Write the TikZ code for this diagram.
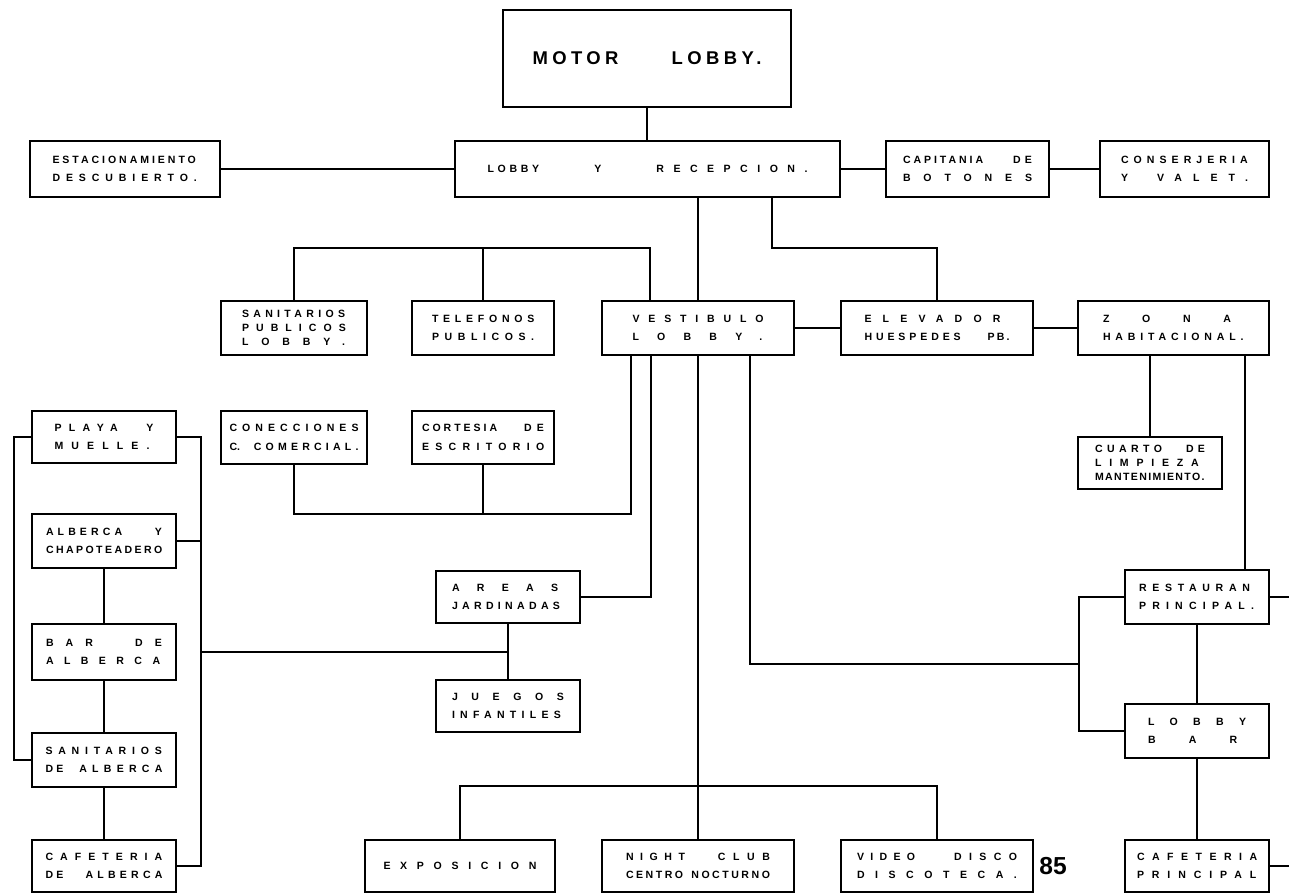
\documentclass[tikz,border=0pt]{standalone}
\usepackage{fontspec}
\newfontfamily\labelfont{Liberation Sans}
\usepackage{tikz}
\usetikzlibrary{calc}
\newcommand\ls[2]{{\addfontfeatures{LetterSpace=#1}#2}}
\tikzset{
  room/.style={draw,line width=1.1pt,inner sep=0pt,align=left,minimum height=1.06cm,
    font=\labelfont\bfseries\fontsize{6}{10.5}\selectfont},
  room3/.style={room,font=\labelfont\bfseries\fontsize{6}{8}\selectfont},
  wire/.style={line width=1.1pt}
}

\begin{document}
\begin{tikzpicture}[x=0.02cm,y=-0.02cm]
  \useasboundingbox (0,0) rectangle (1289,893);
  \node[room,minimum width=5.76cm,minimum height=1.94cm,text width=4.58cm,
    font=\labelfont\bfseries\fontsize{10.5}{12}\selectfont] (motor) at (647,58.5) {\ls{24}{MOTOR}\hfill\ls{24}{LOBBY.}};
  \node[room,minimum width=3.8cm,minimum height=1.12cm,text width=2.9cm] (estac) at (125,169) {\ls{28}{ESTACIONAMIENTO}\\\ls{56}{DESCUBIERTO.}};
  \node[room,minimum width=7.7cm,minimum height=1.12cm,text width=6.4cm] (lobby) at (647.5,169) {\ls{35}{LOBBY}\hfill Y\hfill\ls{90}{RECEPCION.}};
  \node[room,minimum width=3.26cm,minimum height=1.12cm,text width=2.58cm] (capit) at (967.5,169) {\ls{28}{CAPITANIA}\hfill\ls{40}{DE}\\\ls{122}{BOTONES}};
  \node[room,minimum width=3.38cm,minimum height=1.12cm,text width=2.54cm] (conserj) at (1184.5,169) {\ls{48}{CONSERJERIA}\\Y\hfill\ls{105}{VALET.}};

  \node[room3,minimum width=2.92cm,minimum height=1.08cm,text width=2.08cm] (sanpub) at (294,328) {\ls{41}{SANITARIOS}\\\ls{67}{PUBLICOS}\\\ls{122}{LOBBY.}};
  \node[room,minimum width=2.84cm,minimum height=1.08cm,text width=2.04cm] (tel) at (483,328) {\ls{45}{TELEFONOS}\\\ls{53}{PUBLICOS.}};
  \node[room,minimum width=3.84cm,minimum height=1.08cm,text width=2.62cm] (vest) at (698,328) {\ls{84}{VESTIBULO}\\\ls{173}{LOBBY.}};
  \node[room,minimum width=3.84cm,minimum height=1.08cm,text width=2.9cm] (elev) at (937,328) {\ls{106}{ELEVADOR}\\\ls{37}{HUESPEDES}\hfill\ls{20}{PB.}};
  \node[room,minimum width=3.82cm,minimum height=1.08cm,text width=2.82cm] (zona) at (1173.5,328) {\ls{310}{ZONA}\\\ls{46}{HABITACIONAL.}};
  \node[room3,minimum width=2.88cm,minimum height=1.04cm,text width=2.2cm] (cuarto) at (1150,463) {\ls{42}{CUARTO}\hfill\ls{40}{DE}\\\ls{74}{LIMPIEZA}\\\ls{13}{MANTENIMIENTO.}};

  \node[room,minimum width=2.88cm,minimum height=1.04cm,text width=1.98cm] (playa) at (104,437) {\ls{70}{PLAYA}\hfill Y\\\ls{77}{MUELLE.}};
  \node[room,minimum width=2.92cm,text width=2.58cm] (conec) at (294,437.5) {\ls{48}{CONECCIONES}\\C.\hfill\ls{40}{COMERCIAL.}};
  \node[room,minimum width=2.84cm,text width=2.44cm] (cortesia) at (483,437.5) {\ls{28}{CORTESIA}\hfill\ls{50}{DE}\\\ls{60}{ESCRITORIO}};

  \node[room,minimum width=2.88cm,minimum height=1.08cm,text width=2.32cm] (alberca) at (104,541) {\ls{39}{ALBERCA}\hfill Y\\\ls{23}{CHAPOTEADERO}};
  \node[room,minimum width=2.88cm,minimum height=1.12cm,text width=2.32cm] (bar) at (104,652) {\ls{115}{BAR}\hfill\ls{115}{DE}\\\ls{99}{ALBERCA}};
  \node[room,minimum width=2.88cm,minimum height=1.08cm,text width=2.34cm] (sanalb) at (104,760) {\ls{55}{SANITARIOS}\\\ls{30}{DE}\hfill\ls{50}{ALBERCA}};
  \node[room,minimum width=2.88cm,minimum height=1.04cm,text width=2.34cm] (cafalb) at (104,866) {\ls{67}{CAFETERIA}\\\ls{30}{DE}\hfill\ls{40}{ALBERCA}};

  \node[room,minimum width=2.88cm,minimum height=1.04cm,text width=2.24cm] (areas) at (508,597) {\ls{164}{AREAS}\\\ls{41}{JARDINADAS}};
  \node[room,minimum width=2.88cm,minimum height=1.04cm,text width=2.24cm] (juegos) at (508,706) {\ls{129}{JUEGOS}\\\ls{50}{INFANTILES}};

  \node[room,minimum width=3.8cm,minimum height=1.04cm,text width=3.06cm] (expo) at (460,866) {\ls{92}{EXPOSICION}};
  \node[room,minimum width=3.84cm,minimum height=1.04cm,text width=2.88cm] (night) at (698,866) {\ls{62}{NIGHT}\hfill\ls{72}{CLUB}\\\ls{24}{CENTRO}\hfill\ls{24}{NOCTURNO}};
  \node[room,minimum width=3.84cm,minimum height=1.04cm,text width=3.2cm] (video) at (937,866) {\ls{60}{VIDEO}\hfill\ls{70}{DISCO}\\\ls{100}{DISCOTECA.}};
  \node[inner sep=0pt,font=\labelfont\bfseries\fontsize{14}{14}\selectfont] (pagenum) at (1053,866) {85};
  \node[room,minimum width=2.88cm,minimum height=1.04cm,text width=2.4cm] (cafprin) at (1197,866) {\ls{71}{CAFETERIA}\\\ls{75}{PRINCIPAL}};
  \node[room,minimum width=2.88cm,minimum height=1.08cm,text width=2.32cm] (rest) at (1197,597) {\ls{54}{RESTAURAN}\\\ls{59}{PRINCIPAL.}};
  \node[room,minimum width=2.88cm,minimum height=1.08cm,text width=1.96cm] (lbar) at (1197,731) {\ls{145}{LOBBY}\\\ls{315}{BAR}};

  \coordinate (topbus) at (0,248);
  \coordinate (midbus) at (0,514);
  \coordinate (lowbus) at (0,786);
  \coordinate (leftrail) at (14,0);
  \coordinate (poolrail) at (201,0);
  \coordinate (pageedge) at (1289,0);
  \coordinate (barbracket) at (1079,664);
  \coordinate (restdrop) at ($(rest.north)+(48,0)$);

  \draw[wire] (motor.south) -- (motor.south |- lobby.north);
  \draw[wire] (estac) -- (lobby);
  \draw[wire] (lobby) -- (capit);
  \draw[wire] (capit) -- (conserj);
  \draw[wire] (lobby.south -| vest.north) -- (vest.north);
  \draw[wire] ($(lobby.south)+(124.5,0)$) |- (topbus -| elev.north) -- (elev.north);
  \draw[wire] ($(vest.north)+(-48,0)$) |- (topbus -| sanpub.north) -- (sanpub.north);
  \draw[wire] (tel.north) -- (tel.north |- topbus);
  \draw[wire] (vest) -- (elev);
  \draw[wire] (elev) -- (zona);
  \draw[wire] (zona.south -| cuarto.north) -- (cuarto.north);
  \draw[wire] (restdrop |- zona.south) -- (restdrop);
  \draw[wire] ($(vest.south)+(-67,0)$) |- (midbus -| conec.south) -- (conec.south);
  \draw[wire] (cortesia.south) -- (cortesia.south |- midbus);
  \draw[wire] ($(vest.south)+(-47,0)$) |- (areas.east);
  \draw[wire] (vest.south) -- (night.north);
  \draw[wire] (expo.north) |- (lowbus -| video.north) -- (video.north);
  \draw[wire] ($(vest.south)+(52,0)$) |- (barbracket);
  \draw[wire] (rest.west) -| (barbracket) |- (lbar.west);
  \draw[wire] (rest) -- (lbar);
  \draw[wire] (lbar) -- (cafprin);
  \draw[wire] (rest.east) -- (rest.east -| pageedge);
  \draw[wire] (cafprin.east) -- (cafprin.east -| pageedge);
  \draw[wire] (areas) -- (juegos);
  \draw[wire] (bar.east -| poolrail) -- (bar.east -| juegos.north);
  \draw[wire] (playa.west) -| (leftrail |- sanalb.west) -- (sanalb.west);
  \draw[wire] (playa.east) -| (poolrail |- cafalb.east) -- (cafalb.east);
  \draw[wire] (alberca.east) -- (alberca.east -| poolrail);
  \draw[wire] (alberca) -- (bar);
  \draw[wire] (bar) -- (sanalb);
  \draw[wire] (sanalb) -- (cafalb);
\end{tikzpicture}
\end{document}
